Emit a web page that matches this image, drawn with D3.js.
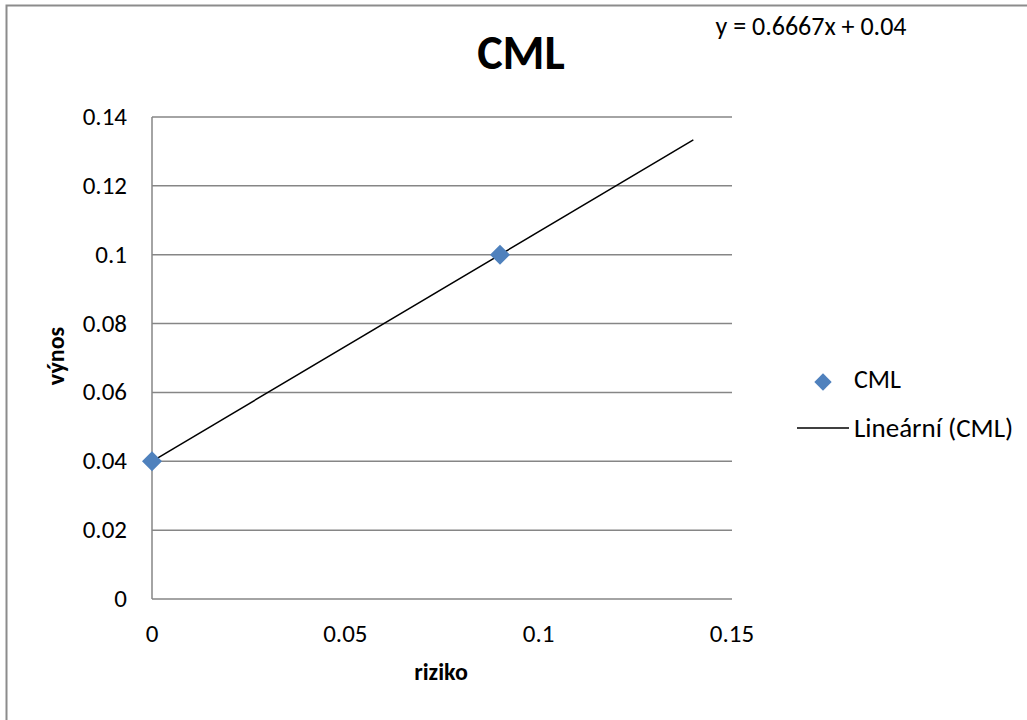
<!DOCTYPE html>
<html>
<head>
<meta charset="utf-8">
<script src="https://cdn.jsdelivr.net/npm/d3@7"></script>
<style>
  body { margin: 0; background: #fff; }
  text { font-family: Carlito, "Open Sans", "Noto Sans", sans-serif; fill: #000; }
</style>
</head>
<body>
<script>
// data
var riziko = [0, 0.09];
var vynos = [0.04, 0.1];
var trendX = [0, 0.14];
var slope = 0.6667, intercept = 0.04;
var xTicks = [0, 0.05, 0.1, 0.15];
var yTicks = [0, 0.02, 0.04, 0.06, 0.08, 0.1, 0.12, 0.14];

var width = 1027, height = 720;

var svg = d3.select('body').append('svg')
  .attr('width', width)
  .attr('height', height);

// chart area border
svg.append('rect')
  .attr('x', 6.5).attr('y', 5.5)
  .attr('width', 1030).attr('height', 730)
  .attr('fill', 'none')
  .attr('stroke', '#8c8c8c')
  .attr('stroke-width', 2);

var x = d3.scaleLinear().domain([0, 0.15]).range([152, 732]);
var y = d3.scaleLinear().domain([0, 0.14]).range([599, 117]);

// horizontal gridlines
svg.append('g')
  .selectAll('line')
  .data(yTicks)
  .enter().append('line')
  .attr('x1', x(0)).attr('x2', x(0.15))
  .attr('y1', function(d) { return y(d); })
  .attr('y2', function(d) { return y(d); })
  .attr('stroke', '#868686')
  .attr('stroke-width', 1.5);

// left axis line
svg.append('line')
  .attr('x1', x(0)).attr('x2', x(0))
  .attr('y1', y(0)).attr('y2', y(0.14))
  .attr('stroke', '#868686')
  .attr('stroke-width', 1.5);

// y tick labels
svg.append('g')
  .selectAll('text')
  .data(yTicks)
  .enter().append('text')
  .attr('x', 127)
  .attr('y', function(d) { return y(d) + 8; })
  .attr('text-anchor', 'end')
  .style('font-size', '25px')
  .text(function(d) { return String(d); });

// x tick labels
svg.append('g')
  .selectAll('text')
  .data(xTicks)
  .enter().append('text')
  .attr('x', function(d) { return x(d); })
  .attr('y', 642)
  .attr('text-anchor', 'middle')
  .style('font-size', '25px')
  .text(function(d) { return String(d); });

// trendline
svg.append('path')
  .datum(trendX)
  .attr('d', d3.line()
    .x(function(d) { return x(d); })
    .y(function(d) { return y(slope * d + intercept); }))
  .attr('stroke', '#000')
  .attr('stroke-width', 1.5)
  .attr('fill', 'none');

// points
var diamond = d3.symbol().type(d3.symbolSquare).size(200);
svg.append('g')
  .selectAll('path')
  .data(riziko)
  .enter().append('path')
  .attr('d', diamond)
  .attr('transform', function(d, i) {
    return 'translate(' + x(d) + ',' + y(vynos[i]) + ') rotate(45)';
  })
  .attr('fill', '#4f81bd');

// title
svg.append('text')
  .attr('x', 521).attr('y', 69)
  .attr('text-anchor', 'middle')
  .style('font-size', '48px')
  .style('font-weight', 'bold')
  .text('CML');

// trendline equation
svg.append('text')
  .attr('x', 811).attr('y', 35)
  .attr('text-anchor', 'middle')
  .style('font-size', '26px')
  .text('y = 0.6667x + 0.04');

// axis titles
svg.append('text')
  .attr('x', 441).attr('y', 680)
  .attr('text-anchor', 'middle')
  .style('font-size', '24px')
  .style('font-weight', 'bold')
  .text('riziko');

svg.append('text')
  .attr('transform', 'translate(64,356) rotate(-90)')
  .attr('text-anchor', 'middle')
  .style('font-size', '24px')
  .style('font-weight', 'bold')
  .text('výnos');

// legend
var legend = svg.append('g');
legend.append('path')
  .attr('d', d3.symbol().type(d3.symbolSquare).size(150))
  .attr('transform', 'translate(823,382) rotate(45)')
  .attr('fill', '#4f81bd');
legend.append('text')
  .attr('x', 854).attr('y', 388)
  .style('font-size', '26px')
  .text('CML');
legend.append('line')
  .attr('x1', 797).attr('x2', 849)
  .attr('y1', 428).attr('y2', 428)
  .attr('stroke', '#000')
  .attr('stroke-width', 1.5);
legend.append('text')
  .attr('x', 854).attr('y', 437)
  .style('font-size', '27px')
  .text('Lineární (CML)');
</script>
</body>
</html>
